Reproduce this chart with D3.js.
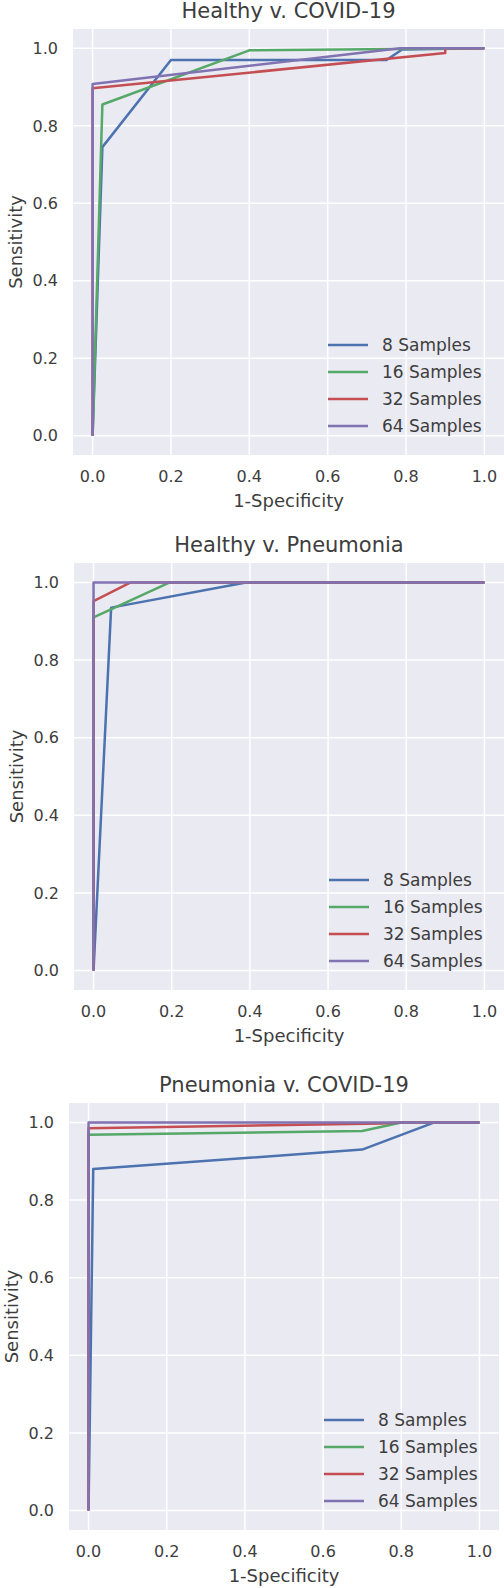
<!DOCTYPE html>
<html>
<head>
<meta charset="utf-8">
<script src="https://cdn.jsdelivr.net/npm/d3@7"></script>
<style>
  html, body { margin: 0; padding: 0; background: #ffffff; }
  svg text { font-family: "DejaVu Sans", sans-serif; fill: #3d3d3d; }
</style>
</head>
<body>
<svg id="chart" width="504" height="1588"></svg>
<script>
// ---------- data ----------
const seriesNames = ["8 Samples", "16 Samples", "32 Samples", "64 Samples"];
const seriesColors = ["#4C72B0", "#55A868", "#C44E52", "#8172B2"];
const panelTitles = ["Healthy v. COVID-19", "Healthy v. Pneumonia", "Pneumonia v. COVID-19"];
const xTicks = [0.0, 0.2, 0.4, 0.6, 0.8, 1.0];
const yTicks = [0.0, 0.2, 0.4, 0.6, 0.8, 1.0];
const xLabel = "1-Specificity";
const yLabel = "Sensitivity";

// ROC points [1-specificity, sensitivity]
const covidHealthy8  = [[0,0],[0.025,0.745],[0.2,0.97],[0.75,0.97],[0.79,0.997],[1,1]];
const covidHealthy16 = [[0,0],[0.025,0.855],[0.4,0.995],[1,1]];
const covidHealthy32 = [[0,0],[0,0.897],[0.9,0.988],[0.9,1],[1,1]];
const covidHealthy64 = [[0,0],[0,0.908],[0.785,1],[1,1]];

const pneuHealthy8  = [[0,0],[0.045,0.935],[0.39,1],[1,1]];
const pneuHealthy16 = [[0,0],[0,0.91],[0.195,1],[1,1]];
const pneuHealthy32 = [[0,0],[0,0.952],[0.095,1],[1,1]];
const pneuHealthy64 = [[0,0],[0,1],[1,1]];

const pneuCovid8  = [[0,0],[0.012,0.88],[0.7,0.93],[0.885,1],[1,1]];
const pneuCovid16 = [[0,0],[0,0.968],[0.7,0.978],[0.8,1],[1,1]];
const pneuCovid32 = [[0,0],[0,0.985],[0.75,0.997],[0.8,1],[1,1]];
const pneuCovid64 = [[0,0],[0,1],[1,1]];

const panelSeries = [
  [covidHealthy8, covidHealthy16, covidHealthy32, covidHealthy64],
  [pneuHealthy8, pneuHealthy16, pneuHealthy32, pneuHealthy64],
  [pneuCovid8, pneuCovid16, pneuCovid32, pneuCovid64]
];

// ---------- layout ----------
const boxes = [
  { left: 73, right: 504, top: 29, bottom: 455 },
  { left: 74, right: 504, top: 563, bottom: 990 },
  { left: 69, right: 499, top: 1103, bottom: 1530 }
];

const svg = d3.select("#chart");
const fmt = d3.format(".1f");

boxes.forEach((b, pi) => {
  const x = d3.scaleLinear().domain([-0.05, 1.05]).range([b.left, b.right]);
  const y = d3.scaleLinear().domain([-0.05, 1.05]).range([b.bottom, b.top]);
  const g = svg.append("g");

  g.append("rect")
    .attr("x", b.left).attr("y", b.top)
    .attr("width", b.right - b.left).attr("height", b.bottom - b.top)
    .attr("fill", "#EAEAF2");

  // grid
  g.selectAll(".gx").data(xTicks).enter().append("line")
    .attr("x1", d => x(d)).attr("x2", d => x(d))
    .attr("y1", b.top).attr("y2", b.bottom)
    .attr("stroke", "#ffffff").attr("stroke-width", 1.5);
  g.selectAll(".gy").data(yTicks).enter().append("line")
    .attr("y1", d => y(d)).attr("y2", d => y(d))
    .attr("x1", b.left).attr("x2", b.right)
    .attr("stroke", "#ffffff").attr("stroke-width", 1.5);

  // tick labels
  g.selectAll(".tx").data(xTicks).enter().append("text")
    .attr("x", d => x(d)).attr("y", b.bottom + 27)
    .attr("text-anchor", "middle").attr("font-size", 16)
    .text(d => fmt(d));
  g.selectAll(".ty").data(yTicks).enter().append("text")
    .attr("x", b.left - 15).attr("y", d => y(d))
    .attr("dy", "0.36em")
    .attr("text-anchor", "end").attr("font-size", 16)
    .text(d => fmt(d));

  // axis labels
  g.append("text")
    .attr("x", (b.left + b.right) / 2).attr("y", b.bottom + 52)
    .attr("text-anchor", "middle").attr("font-size", 18)
    .text(xLabel);
  const ylx = b.left - 57, yly = (b.top + b.bottom) / 2;
  g.append("text")
    .attr("transform", `translate(${ylx},${yly}) rotate(-90)`)
    .attr("dy", "0.36em")
    .attr("text-anchor", "middle").attr("font-size", 18)
    .text(yLabel);

  // title
  g.append("text")
    .attr("x", (b.left + b.right) / 2).attr("y", b.top - 11)
    .attr("text-anchor", "middle").attr("font-size", 21)
    .text(panelTitles[pi]);

  // curves
  const line = d3.line().x(d => x(d[0])).y(d => y(d[1]));
  panelSeries[pi].forEach((pts, si) => {
    g.append("path")
      .attr("d", line(pts))
      .attr("fill", "none")
      .attr("stroke", seriesColors[si])
      .attr("stroke-width", 2.5)
      .attr("stroke-linejoin", "round");
  });

  // legend
  const lg = g.append("g");
  seriesNames.forEach((name, si) => {
    const ry = b.bottom - 110 + si * 27;
    lg.append("line")
      .attr("x1", b.left + 255).attr("x2", b.left + 295)
      .attr("y1", ry).attr("y2", ry)
      .attr("stroke", seriesColors[si]).attr("stroke-width", 2.5);
    lg.append("text")
      .attr("x", b.left + 309).attr("y", ry)
      .attr("dy", "0.36em").attr("font-size", 17)
      .text(name);
  });
});
</script>
</body>
</html>
